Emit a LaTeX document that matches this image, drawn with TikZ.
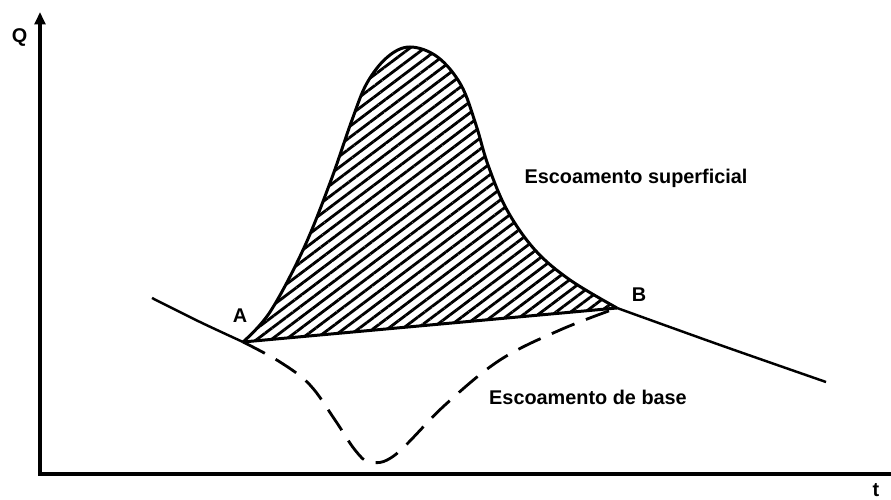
\documentclass[tikz,border=0pt]{standalone}
\usepackage{fontspec}
\setmainfont{Liberation Sans}
\usetikzlibrary{patterns.meta,arrows.meta}

\begin{document}
\begin{tikzpicture}[
        axis/.style={line width=2.3pt},% heavy axes
        curve/.style={line width=1.7pt},
        label/.style={font=\fontsize{11.3}{13}\selectfont\bfseries}]
\useasboundingbox (0,0) rectangle (17.82,10);
\coordinate (O) at (0.8,0.52);
\coordinate (Qtop) at (0.8,9.76);
\coordinate (tend) at (17.82,0.52);
\draw[axis,-{Triangle[length=7pt,width=6pt]}] (O) -- (Qtop);
\draw[axis] ([xshift=-1.1pt]O) -- (tend);
\node[label] (Q) at (0.39,9.24) {Q};
\node[label] (t) at (17.52,0.2) {t};

\coordinate (A) at (4.86,3.16);
\coordinate (B) at (12.34,3.84);
\coordinate (peak) at (8.2,9.06);

% hydrograph surface runoff (hatched)
\def\hydro{plot[smooth,tension=0.6] coordinates {(A) (5.40,3.76) (6.06,5.00) (6.60,6.34)
     (7.04,7.60) (7.34,8.34) (7.75,8.86) (peak) (8.75,8.86) (9.22,8.3) (9.52,7.5) (9.76,6.7)
     (10.14,5.8) (10.7,5.0) (11.4,4.4) (B)}}
\fill[pattern={Lines[angle=37,distance=5pt,line width=1.6pt]}] \hydro -- cycle;
\draw[curve] \hydro;
\draw[curve] (A) -- (B);

% recession before and after
\coordinate (leftend) at (3.04,4.04);
\coordinate (rightend) at (16.52,2.36);
\draw[line width=1.4pt] plot[smooth] coordinates {(leftend) (4.0,3.56) (A)};
\draw[line width=1.4pt] plot[smooth] coordinates {(B) (14.4,3.1) (rightend)};

% base flow (dashed)
\draw[line width=1.6pt,dash pattern=on 14pt off 7pt] plot[smooth,tension=0.6] coordinates {(A) (5.6,2.76) (6.2,2.3)
     (6.7,1.6) (7.1,1.0) (7.4,0.76) (7.9,0.9) (8.9,1.9) (10.0,2.8) (11.2,3.4) (B)};

\node[label] (labA) at (4.8,3.68) {A};
\node[label] (labB) at (12.78,4.1) {B};
\node[label] (sup) at (12.72,6.44) {Escoamento superficial};
\node[label] (base) at (11.76,2.06) {Escoamento de base};
\end{tikzpicture}
\end{document}
